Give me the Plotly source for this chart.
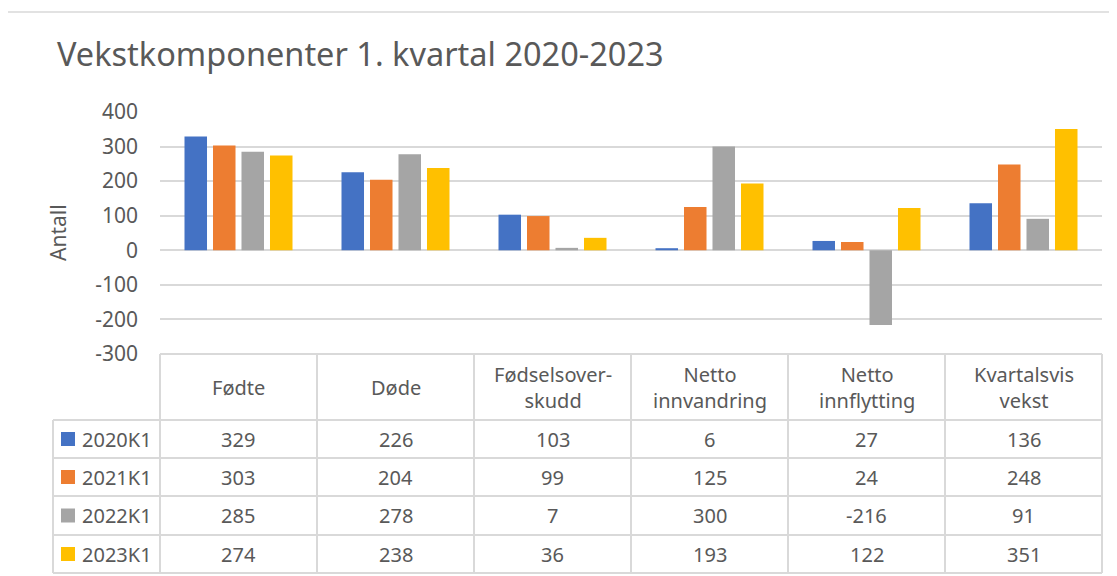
import plotly.graph_objects as go

categories = ["Fødte", "Døde", "Fødselsoverskudd", "Netto innvandring", "Netto innflytting", "Kvartalsvis vekst"]
header_labels = ["Fødte", "Døde", "Fødselsover-<br>skudd", "Netto<br>innvandring", "Netto<br>innflytting", "Kvartalsvis<br>vekst"]
series_names = ["2020K1", "2021K1", "2022K1", "2023K1"]
v2020 = [329, 226, 103, 6, 27, 136]
v2021 = [303, 204, 99, 125, 24, 248]
v2022 = [285, 278, 7, 300, -216, 91]
v2023 = [274, 238, 36, 193, 122, 351]
series_values = [v2020, v2021, v2022, v2023]
colors = ["#4472C4", "#ED7D31", "#A5A5A5", "#FFC000"]
y_ticks = [-300, -200, -100, 0, 100, 200, 300, 400]

W, H = 1117, 576
OFF = 8  # page body margin offset
FONT = "Noto Sans, Open Sans, sans-serif"
TXT = "#595959"
LINE = "#D9D9D9"


def px(x):
    return (x - OFF) / W


def py(y):
    return 1 - (y - OFF) / H


fig = go.Figure()
for name, vals, col in zip(series_names, series_values, colors):
    fig.add_trace(go.Bar(x=categories, y=vals, name=name, marker=dict(color=col, line=dict(width=0))))

plot_left, plot_right = 160, 1102
plot_top, plot_bottom = 112, 354

fig.update_layout(
    width=W, height=H,
    margin=dict(l=0, r=0, t=0, b=0, autoexpand=False),
    paper_bgcolor="white", plot_bgcolor="white",
    barmode="group", bargap=0.274, bargroupgap=0.21,
    showlegend=False,
    font=dict(family=FONT, color=TXT, size=20),
    xaxis=dict(domain=[px(plot_left), px(plot_right)], showticklabels=False, showgrid=False,
               zeroline=False, showline=False, ticks="", automargin=False),
    yaxis=dict(domain=[py(plot_bottom), py(plot_top)], range=[-300, 400], tickvals=y_ticks,
               ticktext=[str(t) for t in y_ticks], automargin=False,
               showgrid=True, gridcolor=LINE, gridwidth=1.5, zeroline=True, zerolinecolor=LINE,
               zerolinewidth=1.5, showline=False, ticks="", ticklabelstandoff=21,
               tickfont=dict(size=21, color=TXT, family=FONT)),
)

shapes = []
# outer chart border
shapes.append(dict(type="rect", xref="paper", yref="paper", x0=px(7), x1=px(W + 20), y0=py(12), y1=py(H + 20),
                   line=dict(color=LINE, width=1.5), fillcolor="rgba(0,0,0,0)"))

# table geometry
row_edges = [354, 420, 458, 496, 535, 573]
legend_left = 53
n = len(categories)
# horizontal lines
shapes.append(dict(type="line", xref="paper", yref="paper", x0=px(plot_left), x1=px(plot_right),
                   y0=py(row_edges[0]), y1=py(row_edges[0]), line=dict(color=LINE, width=2)))
for ye in row_edges[1:]:
    shapes.append(dict(type="line", xref="paper", yref="paper", x0=px(legend_left), x1=px(plot_right),
                       y0=py(ye), y1=py(ye), line=dict(color=LINE, width=2)))
# vertical lines
for i in range(n + 1):
    shapes.append(dict(type="line", xref="x domain", yref="paper", x0=i / n, x1=i / n,
                       y0=py(row_edges[0]), y1=py(row_edges[-1]), line=dict(color=LINE, width=2)))
shapes.append(dict(type="line", xref="paper", yref="paper", x0=px(legend_left), x1=px(legend_left),
                   y0=py(row_edges[1]), y1=py(row_edges[-1]), line=dict(color=LINE, width=2)))

annotations = []
# title
annotations.append(dict(text="Vekstkomponenter 1. kvartal 2020-2023", xref="paper", yref="paper",
                        x=px(55), y=py(53), xanchor="left", yanchor="middle", showarrow=False,
                        font=dict(size=32.5, color=TXT, family=FONT)))
# y axis title
annotations.append(dict(text="Antall", xref="paper", yref="paper", x=px(58), y=py(233), textangle=-90,
                        xanchor="center", yanchor="middle", showarrow=False,
                        font=dict(size=21, color=TXT, family=FONT)))
# header
hdr_y = (row_edges[0] + row_edges[1]) / 2
for cat, lab in zip(categories, header_labels):
    annotations.append(dict(text=lab, xref="x", yref="paper", x=cat, y=py(hdr_y), showarrow=False,
                            xanchor="center", yanchor="middle", font=dict(size=20, color=TXT, family=FONT)))
# rows
for r, (name, vals, col) in enumerate(zip(series_names, series_values, colors)):
    yc = (row_edges[r + 1] + row_edges[r + 2]) / 2
    shapes.append(dict(type="rect", xref="paper", yref="paper", x0=px(61), x1=px(75),
                       y0=py(yc - 7), y1=py(yc + 7), line=dict(width=0), fillcolor=col))
    annotations.append(dict(text=name, xref="paper", yref="paper", x=px(80), y=py(yc), showarrow=False,
                            xanchor="left", yanchor="middle", font=dict(size=20, color=TXT, family=FONT)))
    for cat, v in zip(categories, vals):
        annotations.append(dict(text=str(v), xref="x", yref="paper", x=cat, y=py(yc), showarrow=False,
                                xanchor="center", yanchor="middle", font=dict(size=20, color=TXT, family=FONT)))

fig.update_layout(shapes=shapes, annotations=annotations)
fig.write_html("out.html")
